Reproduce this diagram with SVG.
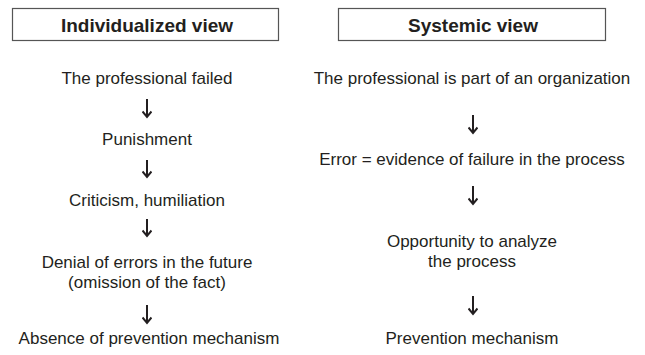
<svg xmlns="http://www.w3.org/2000/svg" width="645" height="355" viewBox="0 0 645 355">
<style>
text{font-family:"Liberation Sans",Arial,sans-serif;fill:#231f20;text-anchor:middle}
.t{font-size:17px}
.h{font-size:19px;font-weight:bold}
.box{fill:#fff;stroke:#555;stroke-width:1.2}
.ar{stroke:#231f20;stroke-width:2;fill:none}
</style>
<defs>
<marker id="head" viewBox="0 0 10 10" refX="8" refY="5" markerWidth="10" markerHeight="10" markerUnits="userSpaceOnUse" orient="auto">
<path d="M2.5,0.5 L8,5 L2.5,9.5" fill="none" stroke="#231f20" stroke-width="2"/>
</marker>
</defs>
<rect width="645" height="355" fill="#fff"/>
<g id="title-left"><rect class="box" x="12.5" y="8.5" width="266" height="32"/><text class="h" x="147" y="31.5">Individualized view</text></g>
<g id="title-right"><rect class="box" x="338.5" y="8.5" width="267" height="32"/><text class="h" x="473" y="31.5">Systemic view</text></g>
<g id="l1"><text class="t" x="147" y="84">The professional failed</text></g>
<g id="l2"><text class="t" x="147" y="145">Punishment</text></g>
<g id="l3"><text class="t" x="147" y="206">Criticism, humiliation</text></g>
<g id="l4"><text class="t" x="147" y="268">Denial of errors in the future</text><text class="t" x="147" y="288">(omission of the fact)</text></g>
<g id="l5"><text class="t" x="149" y="344">Absence of prevention mechanism</text></g>
<g id="r1"><text class="t" x="472" y="84">The professional is part of an organization</text></g>
<g id="r2"><text class="t" x="472" y="165">Error = evidence of failure in the process</text></g>
<g id="r3"><text class="t" x="472" y="247">Opportunity to analyze</text><text class="t" x="472" y="267">the process</text></g>
<g id="r4"><text class="t" x="472" y="344">Prevention mechanism</text></g>
<g id="connectors">
<line class="ar" x1="147" y1="99" x2="147" y2="117" marker-end="url(#head)"/>
<line class="ar" x1="147" y1="160" x2="147" y2="177" marker-end="url(#head)"/>
<line class="ar" x1="147" y1="219" x2="147" y2="236" marker-end="url(#head)"/>
<line class="ar" x1="147" y1="305" x2="147" y2="323" marker-end="url(#head)"/>
<line class="ar" x1="473" y1="115" x2="473" y2="133" marker-end="url(#head)"/>
<line class="ar" x1="473" y1="186" x2="473" y2="204" marker-end="url(#head)"/>
<line class="ar" x1="473" y1="296" x2="473" y2="314" marker-end="url(#head)"/>
</g>
</svg>
